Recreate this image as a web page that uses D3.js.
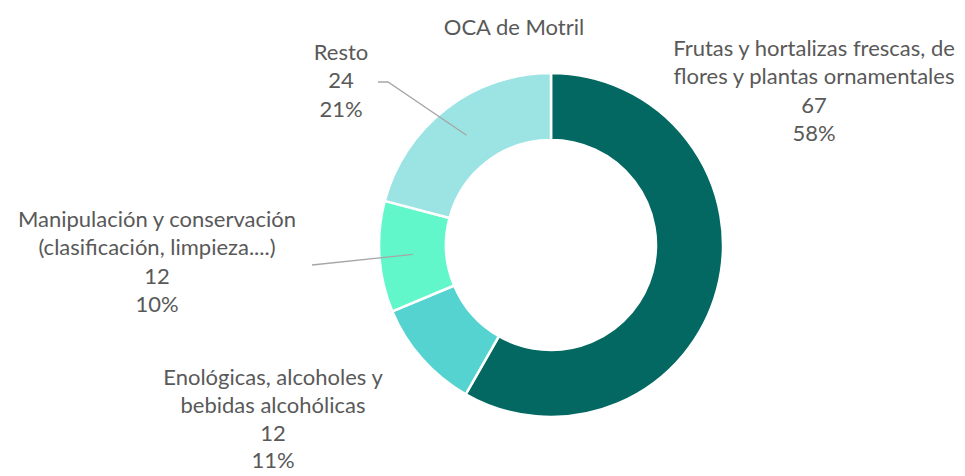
<!DOCTYPE html>
<html><head><meta charset="utf-8">
<script src="https://cdn.jsdelivr.net/npm/d3@7"></script>
<style>body{margin:0;background:#fff}svg{display:block}</style>
</head><body>
<svg id="c" width="965" height="476"></svg>
<script>
const title = "OCA de Motril";
const categories = [
  ["Frutas y hortalizas frescas, de", "flores y plantas ornamentales"],
  ["Enológicas, alcoholes y", "bebidas alcohólicas"],
  ["Manipulación y conservación", "(clasificación, limpieza....)"],
  ["Resto"]
];
const values = [67, 12, 12, 24];
const percentLabels = ["58%", "11%", "10%", "21%"];
const colors = ["#036862", "#55D3D0", "#62F7CA", "#9BE4E3"];

const W = 965, H = 476, cx = 551, cy = 245, rIn = 105, rOut = 172;
const font = "Lato, 'Open Sans', sans-serif";
const fs = 22, lh = 28.3;
const textColor = "#595959";

const svg = d3.select("#c");
const g = svg.append("g").attr("transform", `translate(${cx},${cy})`);
const pie = d3.pie().sort(null).value(d => d)(values);
const arc = d3.arc().innerRadius(rIn).outerRadius(rOut);

g.selectAll("path.slice").data(pie).join("path")
  .attr("class", "slice")
  .attr("d", arc)
  .attr("fill", (d, i) => colors[i])
  .attr("stroke", "#fff").attr("stroke-width", 2.5);

svg.append("text").attr("x", 514).attr("y", 35).attr("text-anchor", "middle")
  .attr("font-family", font).attr("font-size", fs).attr("fill", textColor).text(title);

// label layout: center x and first baseline (absolute)
const labelLayout = [
  {x: 814, y: 56, lh: lh},
  {x: 273, y: 385, lh: 27.8},
  {x: 157, y: 227, lh: lh},
  {x: 341, y: 60, lh: lh}
];
pie.forEach((d, i) => {
  const lines = categories[i].concat([String(values[i]), percentLabels[i]]);
  const t = svg.append("text").attr("text-anchor", "middle")
    .attr("font-family", font).attr("font-size", fs).attr("fill", textColor);
  lines.forEach((ln, k) => {
    t.append("tspan").attr("x", labelLayout[i].x).attr("y", labelLayout[i].y + k * labelLayout[i].lh).text(ln);
  });
});

// leader lines
const leader = [
  null, null,
  {pts: [[312, 265]]},
  {pts: [[378, 82], [388, 82]]}
];
pie.forEach((d, i) => {
  if (!leader[i]) return;
  const c = arc.centroid(d);
  const pts = leader[i].pts.concat([[cx + c[0], cy + c[1]]]);
  svg.append("path").attr("d", d3.line()(pts))
    .attr("fill", "none").attr("stroke", "#A6A6A6").attr("stroke-width", 1.3);
});
</script>
</body></html>
